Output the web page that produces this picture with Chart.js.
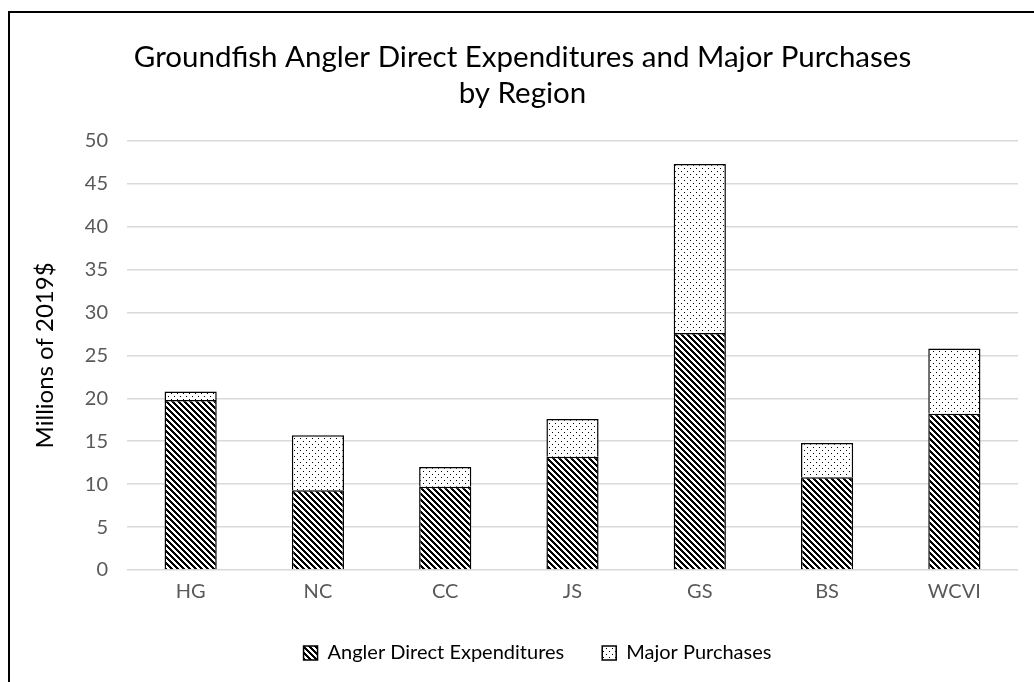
<!DOCTYPE html>
<html>
<head>
<meta charset="utf-8">
<script src="https://cdn.jsdelivr.net/npm/chart.js@4.4.0/dist/chart.umd.min.js"></script>
<style>
  html, body { margin: 0; padding: 0; background: #fff; }
  #wrap { position: relative; width: 1034px; height: 682px; overflow: hidden; }
  #frame { position: absolute; left: 8px; top: 11px; width: 1100px; height: 700px;
           border-left: 2px solid #000; border-top: 2px solid #000; pointer-events: none; }
</style>
</head>
<body>
<div id="wrap">
  <canvas id="chart" width="1034" height="682"></canvas>
  <div id="frame"></div>
</div>
<script>
const regions = ['HG', 'NC', 'CC', 'JS', 'GS', 'BS', 'WCVI'];
const directExpenditures = [19.8, 9.3, 9.7, 13.2, 27.6, 10.8, 18.2];
const majorPurchases = [1.0, 6.4, 2.3, 4.4, 19.7, 4.0, 7.6];
const yTicks = [0, 5, 10, 15, 20, 25, 30, 35, 40, 45, 50];

const FONT = 'Lato, "Open Sans", sans-serif';

// hatch patterns like the Excel fills
function stripePattern() {
    const c = document.createElement('canvas');
    c.width = 6; c.height = 6;
    const g = c.getContext('2d');
    g.fillStyle = '#fff';
    g.fillRect(0, 0, 6, 6);
    g.fillStyle = '#000';
    for (let y = 0; y < 6; y++) {
        for (let x = 0; x < 6; x++) {
            if (((y - x) % 6 + 6) % 6 < 3) g.fillRect(x, y, 1, 1);
        }
    }
    return g.createPattern(c, 'repeat');
}

function dotPattern() {
    const c = document.createElement('canvas');
    c.width = 6; c.height = 6;
    const g = c.getContext('2d');
    g.fillStyle = '#fff';
    g.fillRect(0, 0, 6, 6);
    g.fillStyle = '#000';
    g.fillRect(0, 0, 1, 1);
    g.fillRect(3, 3, 1, 1);
    return g.createPattern(c, 'repeat');
}

const stripes = stripePattern();
const dots = dotPattern();

// legend padding is used both across and above the items; keep the gap
// between items but give the legend a shorter box
const LEGEND_H = 66;
const LEGEND_Y = 653;
const legendPlace = {
    id: 'legendPlace',
    beforeUpdate(chart) {
        const legend = chart.legend;
        if (!legend || legend._patched) return;
        const fit = legend.fit;
        legend.fit = function () {
            fit.call(this);
            this.height = LEGEND_H;
        };
        legend._patched = true;
    },
    afterLayout(chart) {
        const legend = chart.legend;
        const pad = legend.options.labels.padding;
        legend.top = LEGEND_Y - 10 - pad;
        legend.left += 30;
    }
};

const ctx = document.getElementById('chart').getContext('2d');
new Chart(ctx, {
    type: 'bar',
    data: {
        labels: regions,
        datasets: [
            { label: 'Angler Direct Expenditures', data: directExpenditures, backgroundColor: stripes,
              borderColor: '#000', borderWidth: 1.5, categoryPercentage: 1, barPercentage: 0.41 },
            { label: 'Major Purchases', data: majorPurchases, backgroundColor: dots,
              borderColor: '#000', borderWidth: 1.5, categoryPercentage: 1, barPercentage: 0.41 }
        ]
    },
    plugins: [legendPlace],
    options: {
        responsive: false,
        animation: false,
        layout: { padding: { left: 27, right: 16, top: 34, bottom: 10 } },
        plugins: {
            title: {
                display: true,
                text: ['Groundfish Angler Direct Expenditures and Major Purchases', 'by Region'],
                color: '#000',
                font: { family: FONT, size: 29.5, weight: 'normal', lineHeight: 1.2 },
                padding: { top: 6, bottom: 30 }
            },
            legend: {
                position: 'bottom',
                labels: {
                    color: '#595959',
                    font: { family: FONT, size: 20 },
                    boxWidth: 14, boxHeight: 14, padding: 38,
                    generateLabels: chart => chart.data.datasets.map((ds, i) => ({
                        text: ds.label, fillStyle: ds.backgroundColor, strokeStyle: '#000',
                        lineWidth: 1.5, datasetIndex: i
                    }))
                }
            },
            tooltip: { enabled: false }
        },
        scales: {
            x: {
                stacked: true,
                grid: { display: false },
                border: { display: false },
                ticks: { color: '#595959', font: { family: FONT, size: 20 }, padding: 2 }
            },
            y: {
                stacked: true,
                min: 0, max: 50,
                afterBuildTicks: scale => { scale.ticks = yTicks.map(v => ({ value: v })); },
                afterFit: scale => { scale.width = 100; },
                grid: { color: '#d9d9d9', lineWidth: 1.5, drawTicks: false },
                border: { display: false },
                ticks: { color: '#595959', font: { family: FONT, size: 20 }, padding: 19 },
                title: { display: true, text: 'Millions of 2019$', color: '#000',
                         font: { family: FONT, size: 24 }, padding: { bottom: 0 } }
            }
        }
    }
});
</script>
</body>
</html>
